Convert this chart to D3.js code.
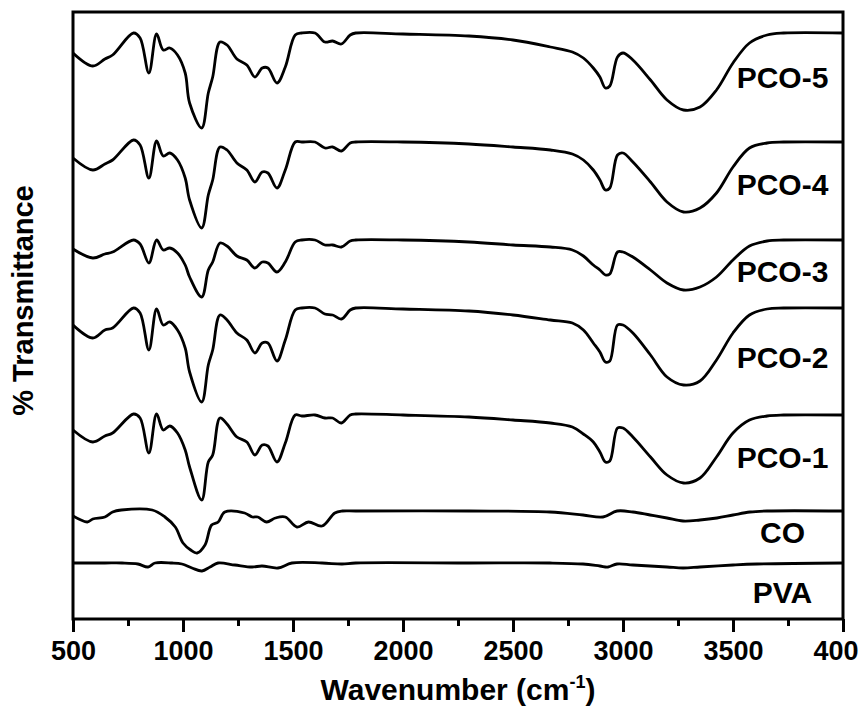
<!DOCTYPE html>
<html>
<head>
<meta charset="utf-8">
<script src="https://cdn.jsdelivr.net/npm/d3@7"></script>
<style>
  body { margin: 0; background: #fff; }
  svg { display: block; font-family: "Liberation Sans", Arial, sans-serif; }
</style>
</head>
<body>
<div id="chart"></div>
<script>
// Wavenumber grid (cm-1) shared by the PCO spectra
const wavenumbers = [500, 590, 645, 680, 775, 805, 845, 880, 910, 940, 975, 1010, 1030, 1085, 1115, 1135,
  1168, 1200, 1245, 1290, 1327, 1360, 1386, 1427, 1465, 1510, 1540, 1600, 1645, 1680, 1720, 1760, 1785,
  2000, 2300, 2500, 2670, 2770, 2820, 2865, 2895, 2920, 2940, 2975, 3000, 3045, 3125, 3200, 3275, 3350,
  3425, 3500, 3575, 3655, 3730, 4000];

// Offset transmittance (a.u.)
const pco5 = [566, 553, 560, 564, 586, 581, 546, 585, 569, 571, 564, 546, 516, 491, 526, 542,
  577, 574, 560, 554, 542, 551, 551, 536, 552, 584, 586, 586, 577, 578, 575, 584, 586,
  585, 583, 579, 572, 567, 561, 551, 542, 531, 533, 562, 566, 559, 539, 519, 509, 512,
  529, 556, 576, 584, 586, 586];
const pco4 = [461, 449, 455, 459, 479, 474, 441, 478, 463, 466, 459, 441, 419, 391, 424, 439,
  472, 469, 456, 449, 437, 447, 446, 431, 449, 477, 477, 477, 471, 472, 468, 476, 477,
  477, 475, 472, 469, 465, 459, 449, 439, 429, 431, 464, 466, 457, 437, 417, 407, 411,
  426, 452, 471, 476, 477, 477];
const pco3 = [370, 361, 365, 367, 379, 375, 356, 379, 369, 371, 366, 354, 342, 322, 349, 357,
  376, 373, 363, 359, 351, 357, 356, 347, 357, 377, 379, 379, 374, 374, 372, 378, 379,
  379, 377, 374, 372, 369, 363, 354, 349, 344, 345, 367, 367, 362, 349, 336, 329, 332,
  342, 359, 373, 378, 379, 379];
const pco2 = [294, 281, 289, 291, 311, 306, 269, 310, 294, 297, 289, 271, 247, 217, 254, 269,
  304, 299, 286, 279, 266, 276, 276, 258, 279, 309, 311, 311, 305, 304, 300, 309, 311,
  310, 308, 304, 299, 296, 289, 276, 267, 257, 258, 294, 294, 286, 264, 242, 234, 238,
  259, 286, 304, 310, 311, 311];
const pco1 = [189, 177, 183, 186, 205, 201, 166, 205, 189, 193, 186, 169, 152, 119, 157, 164,
  201, 195, 182, 177, 164, 174, 173, 157, 176, 204, 203, 204, 201, 201, 196, 204, 205,
  204, 202, 199, 196, 192, 185, 177, 167, 157, 158, 191, 191, 182, 162, 144, 136, 141,
  162, 186, 199, 203, 204, 204];

const coWavenumbers = [500, 565, 590, 645, 680, 720, 860, 918, 965, 1000, 1035, 1064, 1100, 1130, 1160,
  1190, 1280, 1315, 1340, 1380, 1420, 1465, 1518, 1570, 1632, 1690, 1725, 1785, 2300, 2668, 2818,
  2909, 2973, 3045, 3123, 3200, 3273, 3350, 3427, 3500, 3577, 3655, 4000];
const co = [103, 97, 100, 102, 107, 109, 109, 102, 92, 76, 69, 66, 74, 94, 97,
  107, 106, 102, 102, 97, 101, 102, 92, 97, 93, 106, 108, 108, 108, 107, 104,
  102, 108, 107, 104, 101, 98, 99, 101, 104, 107, 108, 108];

const pvaWavenumbers = [500, 645, 723, 795, 841, 873, 950, 995, 1041, 1086, 1123, 1159, 1236, 1314, 1359,
  1432, 1495, 1632, 1723, 1785, 2300, 2668, 2818, 2895, 2932, 2973, 3045, 3200, 3273, 3350, 3500,
  3609, 4000];
const pva = [56, 56, 56, 55, 52, 56, 56, 55, 51, 48, 52, 56, 54, 52, 53,
  51, 56, 56, 55, 56, 56, 56, 55, 53, 52, 55, 54, 52, 51, 52, 54,
  55, 56];

const seriesNames = ["PCO-5", "PCO-4", "PCO-3", "PCO-2", "PCO-1", "CO", "PVA"];
const labelLevels = [531, 424, 337, 251, 151, 76, 16];
const majorTicks = [500, 1000, 1500, 2000, 2500, 3000, 3500, 4000];
const minorTicks = [750, 1250, 1750, 2250, 2750, 3250, 3750];

const series = [
  { name: seriesNames[0], wn: wavenumbers, t: pco5 },
  { name: seriesNames[1], wn: wavenumbers, t: pco4 },
  { name: seriesNames[2], wn: wavenumbers, t: pco3 },
  { name: seriesNames[3], wn: wavenumbers, t: pco2 },
  { name: seriesNames[4], wn: wavenumbers, t: pco1 },
  { name: seriesNames[5], wn: coWavenumbers, t: co },
  { name: seriesNames[6], wn: pvaWavenumbers, t: pva }
];

const width = 859, height = 711;
const margin = { top: 12, right: 16, bottom: 92, left: 73 };
const innerW = width - margin.left - margin.right;
const innerH = height - margin.top - margin.bottom;

const svg = d3.select("#chart").append("svg")
  .attr("width", width)
  .attr("height", height);

const g = svg.append("g")
  .attr("transform", `translate(${margin.left},${margin.top})`);

const x = d3.scaleLinear().domain([500, 4000]).range([0, innerW]);
const y = d3.scaleLinear().domain([0, 607]).range([innerH, 0]);

// clip the spectra to the frame
g.append("clipPath").attr("id", "plot-clip")
  .append("rect").attr("width", innerW).attr("height", innerH);

const line = d3.line()
  .x(d => x(d[0]))
  .y(d => y(d[1]))
  .curve(d3.curveCatmullRom.alpha(0.5));

g.append("g").attr("clip-path", "url(#plot-clip)")
  .selectAll("path")
  .data(series)
  .join("path")
  .attr("fill", "none")
  .attr("stroke", "#000")
  .attr("stroke-width", 2.8)
  .attr("stroke-linejoin", "round")
  .attr("d", s => line(s.wn.map((w, i) => [w, s.t[i]])));

// series labels
g.selectAll(".lbl")
  .data(series)
  .join("text")
  .attr("class", "lbl")
  .attr("x", x(3725))
  .attr("y", (s, i) => y(labelLevels[i]))
  .attr("text-anchor", "middle")
  .attr("font-size", "30px")
  .attr("font-weight", "bold")
  .text(s => s.name);

// bottom axis: major and minor ticks
const xAxis = g.append("g")
  .attr("transform", `translate(0,${innerH})`)
  .call(d3.axisBottom(x).tickValues(majorTicks).tickSize(13).tickPadding(9).tickFormat(d3.format("d")));
xAxis.select(".domain").remove();
xAxis.selectAll(".tick line").attr("stroke-width", 3);
xAxis.selectAll("text")
  .attr("font-size", "27px")
  .attr("font-weight", "bold")
  .attr("font-family", "Liberation Sans, Arial, sans-serif")
  .attr("fill", "#000");

const xMinor = g.append("g")
  .attr("transform", `translate(0,${innerH})`)
  .call(d3.axisBottom(x).tickValues(minorTicks).tickSize(7).tickFormat(""));
xMinor.select(".domain").remove();
xMinor.selectAll(".tick line").attr("stroke-width", 3);

// frame
g.append("rect")
  .attr("width", innerW)
  .attr("height", innerH)
  .attr("fill", "none")
  .attr("stroke", "#000")
  .attr("stroke-width", 3);

// axis titles
const xTitle = svg.append("text")
  .attr("x", margin.left + innerW / 2)
  .attr("y", 700)
  .attr("text-anchor", "middle")
  .attr("font-size", "30px")
  .attr("font-weight", "bold");
xTitle.append("tspan").text("Wavenumber (cm");
xTitle.append("tspan").attr("font-size", "18px").attr("dy", -12).text("-1");
xTitle.append("tspan").attr("dy", 12).text(")");

svg.append("text")
  .attr("transform", `translate(33,${margin.top + innerH / 2 - 15}) rotate(-90)`)
  .attr("text-anchor", "middle")
  .attr("font-size", "29px")
  .attr("font-weight", "bold")
  .text("% Transmittance");
</script>
</body>
</html>
